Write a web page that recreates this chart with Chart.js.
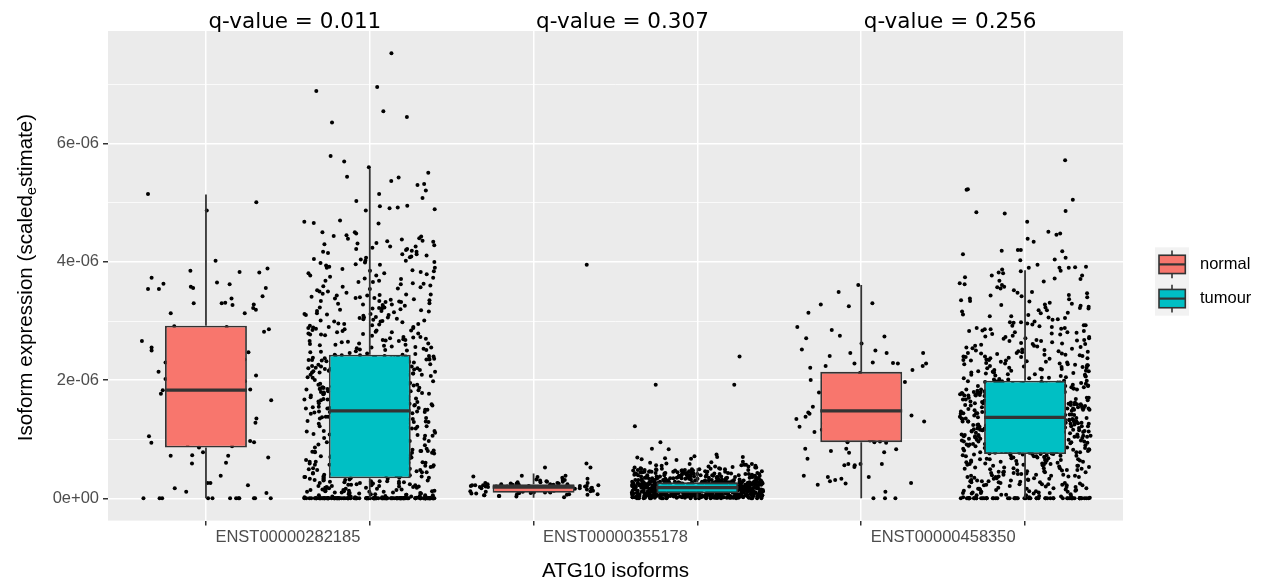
<!DOCTYPE html>
<html><head><meta charset="utf-8">
<script src="https://cdn.jsdelivr.net/npm/chart.js@4.4.1/dist/chart.umd.min.js"></script>
<style>html,body{margin:0;padding:0;background:#fff}canvas{display:block}</style>
</head><body>
<canvas id="c" width="1262" height="583"></canvas>
<script>
// ---------------- data (expression values in units of 1e-6) ----------------
const categories = ['ENST00000282185', 'ENST00000355178', 'ENST00000458350'];
const groups = ['normal', 'tumour'];
const qValues = ['0.011', '0.307', '0.256'];
const yTickLabels = ['0e+00', '2e-06', '4e-06', '6e-06'];
const yTickValues = [0, 1, 2, 3, 4, 5, 6, 7];
const xTitle = 'ATG10 isoforms';
const yTitleParts = ['Isoform expression (scaled', 'e', 'stimate)'];

// box statistics, order: cat1 normal, cat1 tumour, cat2 normal, cat2 tumour, cat3 normal, cat3 tumour
const boxLow    = [0, 0, 0.01, 0, 0, 0];
const boxQ1     = [0.86, 0.34, 0.095, 0.085, 0.95, 0.75];
const boxMedian = [1.83, 1.48, 0.19, 0.18, 1.48, 1.37];
const boxQ3     = [2.92, 2.43, 0.237, 0.27, 2.14, 1.99];
const boxHigh   = [5.14, 5.58, 0.42, 0.51, 3.61, 3.86];

// individual samples (jittered points)
const n1 = [5.01,5.15,4.87,4.02,3.82,3.73,3.89,3.83,3.85,3.65,3.56,3.63,3.58,3.54,3.62,3.56,3.54,3.42,3.38,3.31,
3.27,3.13,3.30,3.22,3.13,3.19,3.30,3.28,2.84,2.82,2.79,2.90,2.86,2.59,2.50,2.30,2.26,2.27,1.98,1.83,
1.86,1.75,1.58,1.58,1.39,1.28,1.20,1.14,1.17,0.97,0.94,0.86,0.78,0.73,0.72,0.72,0.69,0.59,0.60,0.38,
0.22,0.26,0.26,0.11,0.09,0.17,0,0,0,0,0,0,0,0,0,0,0,0,
2.91,2.74,2.66,2.55,2.47,2.41,2.35,2.20,2.14,2.08,2.02,1.95,1.91,1.88,1.84,1.80,1.77,1.71,1.66,1.62,
1.53,1.47,1.43,1.35,1.31,1.24,1.10,1.05,1.01,0.95,0.91,0.88,2.62];

const t1 = [0,0,0,0,0,0,0,0,0,0,0,0,0,0,0,0,0,0,0,0,0,0,0,0,0,0,0,0,0,0,
0,0,0,0,0,0,0,0,0,0,0,0,0,0,0,0,0,0,0,0,0,0,0,0,0,0,0,0,0,0,
0,0,0,0,0,0,0,0,0,0,0,0,0,0,0,0,0,0,0,0,0,0,0,0,0,0,0,0,0,0,
0.02,0.05,0.08,0.11,0.03,0.14,0.19,0.07,0.22,0.26,0.04,0.31,0.12,0.17,0.09,0.28,0.33,0.06,0.15,0.21,
0.01,0.24,0.13,0.30,0.10,0.18,0.27,0.05,0.16,0.23,0.32,0.08,0.20,0.29,0.02,0.12,0.25,0.34,0.07,0.19,
0.14,0.03,0.22,0.31,0.11,0.26,0.04,0.17,0.29,0.09,0.21,0.33,0.06,0.15,0.24,0.10,0.28,0.18,0.01,0.13,
0.36,0.52,0.71,0.94,1.12,1.33,0.45,0.63,0.88,1.05,1.27,1.44,0.39,0.58,0.77,0.99,1.18,1.38,0.48,0.67,
0.83,1.02,1.21,1.41,0.35,0.55,0.74,0.91,1.09,1.30,1.47,0.42,0.61,0.80,0.97,1.15,1.35,0.50,0.69,0.86,
1.06,1.24,1.43,0.37,0.57,0.76,0.93,1.11,1.29,1.46,0.44,0.64,0.82,1.00,1.19,1.37,0.53,0.72,0.90,1.08,
1.26,1.45,0.40,0.60,0.79,0.96,1.14,1.32,0.47,0.66,0.85,1.03,1.22,1.40,0.38,0.56,0.75,0.92,1.10,1.28,
1.48,0.43,0.62,0.81,0.98,1.16,1.36,0.51,0.70,0.87,1.07,1.25,1.42,0.41,0.59,0.78,0.95,1.13,1.31,0.49,
0.68,0.84,1.04,1.23,1.39,0.46,0.65,0.89,1.01,1.20,1.34,0.54,0.73,0.35,1.17,1.46,0.60,0.97,0.42,1.27,
0.80,1.38,0.57,1.09,0.66,1.44,0.39,0.93,1.21,0.75,1.03,0.50,1.32,0.87,1.14,0.44,0.71,1.41,0.62,0.99,
1.26,0.36,0.83,1.47,0.55,1.06,0.91,1.35,0.48,0.77,
1.50,1.63,1.79,1.94,2.08,2.22,2.37,1.55,1.71,1.86,2.01,2.15,2.30,1.58,1.74,1.90,2.05,2.19,2.34,1.52,
1.67,1.83,1.98,2.12,2.27,2.41,1.60,1.76,1.92,2.07,2.21,2.36,1.54,1.69,1.85,2.00,2.14,2.29,2.43,1.62,
1.78,1.93,2.09,2.24,2.39,1.57,1.72,1.88,2.03,2.17,2.32,1.49,1.65,1.81,1.96,2.11,2.26,2.40,1.59,1.75,
1.91,2.06,2.20,2.35,1.53,1.68,1.84,1.99,2.13,2.28,2.42,1.61,1.77,1.95,2.10,2.25,2.38,1.56,1.70,1.87,
2.02,2.16,2.31,1.51,1.66,1.82,1.97,2.12,2.27,2.41,1.64,1.80,1.89,2.04,2.18,2.33,1.58,1.73,1.92,2.08,
2.23,2.37,1.50,1.69,1.85,2.01,2.15,2.29,1.62,1.78,1.94,2.09,2.24,2.39,1.55,1.71,1.87,2.03,2.19,2.34,
1.60,1.76,1.91,2.06,2.21,2.36,1.53,1.67,1.83,1.98,2.14,2.30,2.42,1.65,1.80,1.96,2.11,2.26,2.40,1.57,
1.74,1.89,2.05,2.20,2.35,1.52,1.68,1.84,2.00,2.16,
2.45,2.61,2.78,2.95,3.12,3.29,3.46,2.52,2.69,2.86,3.03,3.20,3.37,2.48,2.65,2.82,2.99,3.16,3.33,2.56,
2.73,2.90,3.07,3.24,3.41,2.50,2.67,2.84,3.01,3.18,3.35,2.59,2.76,2.93,3.10,3.27,3.44,2.47,2.64,2.81,
2.98,3.15,3.32,2.54,2.71,2.88,3.05,3.22,3.39,2.58,2.75,2.92,3.09,3.26,3.43,2.49,2.66,2.83,3.00,3.17,
3.34,2.62,2.79,2.96,3.13,3.30,3.48,2.55,2.72,2.89,3.06,3.23,3.40,2.51,2.68,2.85,3.02,3.19,3.36,2.60,
2.77,2.94,3.11,3.28,3.45,
3.52,3.68,3.85,4.02,4.19,4.36,3.58,3.75,3.92,4.09,4.26,4.43,3.55,3.71,3.88,4.05,4.22,4.39,3.62,3.79,
3.96,4.13,4.30,3.50,3.66,3.83,4.00,4.17,4.34,3.60,3.77,3.94,4.11,4.28,4.45,3.64,3.81,3.98,4.15,4.32,
3.57,3.73,3.90,4.07,4.24,
4.50,4.48,4.50,4.66,4.65,4.70,4.68,4.92,4.94,4.87,4.89,4.91,4.95,5.03,5.08,5.15,5.21,5.37,5.30,5.32,
5.44,5.51,5.43,5.60,5.70,5.79,6.36,6.45,6.55,6.89,6.96,7.53,
0,0,0,0,0,0,0,0,0,0,0,0,0,0,0,0,0,0,0,0,0,0,0,0,0,0,0,0,0,0,0,0,0,0,0,0,0,0,0,0,
0.03,0.07,0.12,0.16,0.20,0.25,0.29,0.33,0.05,0.10,0.14,0.18,0.23,0.27,0.31,0.02,0.08,0.13,0.21,0.26,0.30,0.11,
0.37,0.46,0.55,0.64,0.73,0.82,0.91,1.00,1.09,1.18,1.27,1.36,1.45,0.41,0.50,0.59,0.68,0.77,0.86,0.95,
1.04,1.13,1.22,1.31,1.40,0.35,0.44,0.53,0.62,0.71,0.80,0.89,0.98,1.07,1.16,1.25,1.34,1.43,0.39,0.48,
0.57,0.66,0.75,0.84,0.93,1.02,1.11,1.20,1.29,1.38,1.47,0.43,0.52,0.61,0.70,0.79,0.88,0.97,1.06,1.15,
1.24,1.33,
1.51,1.59,1.67,1.75,1.83,1.91,1.99,2.07,2.15,2.23,2.31,2.39,1.55,1.63,1.71,1.79,1.87,1.95,2.03,2.11,
2.19,2.27,2.35,2.43,1.49,1.57,1.65,1.73,1.81,1.89,1.97,2.05,2.13,2.21,2.29,2.37,1.53,1.61,1.69,1.77,
1.85,1.93,2.01,2.09,2.17,2.25,2.33,2.41,1.56,1.64,1.72,1.80,1.88,1.96,2.04,2.12,2.20,2.28,2.36,1.60,
1.76,1.92,
2.46,2.57,2.68,2.79,2.90,3.01,3.12,3.23,3.34,3.45,2.51,2.62,2.73,2.84,2.95,3.06,3.17,3.28,3.39,3.50,
2.44,2.55,2.66,2.77,2.88,2.99,3.10,3.21,3.32,3.43,2.53,2.70,2.87,3.04,3.21,3.38,2.60,2.81,
3.54,3.63,3.72,3.81,3.90,3.99,4.08,4.17,4.26,4.35,4.44,3.59,3.68,3.77,3.86,3.95,4.04,4.13,4.22,4.31,
4.40,3.66,3.84,4.02,4.20,4.38];

const n2 = [3.95,0.52,0.59,0.52,0.38,0.32,0.38,0.37,0.31,0.33,0.36,0.35,0.22,0.31,
0.03,0.05,0.07,0.09,0.11,0.13,0.15,0.17,0.19,0.21,0.23,0.25,0.27,0.04,0.06,0.08,0.10,0.12,0.14,0.16,
0.18,0.20,0.22,0.24,0.26,0.28,0.02,0.09,0.16,0.21,0.12,0.19,0.24,0.07,0.14,0.20,0.25,0.10,0.17,0.23,
0.29,0.05,0.13,0.18,0.22,0.08,0.15,0.21,0.26,0.11,0.19,0.24,0.06,0.17,0.20,0.27,0.09,0.14,0.22,0.30,
0.12,0.18,0.23,0.04,0.16,0.20,0.25,0.10,0.19,0.28,0.13,0.21,0.07,0.17,0.24,0.11,0.19,0.22,0.15,0.26];

const t2 = [0.00,0.01,0.03,0.05,0.07,0.02,0.04,0.06,0.08,0.00,0.01,0.03,0.05,0.07,0.02,0.04,0.06,0.08,0.00,0.02,
0.04,0.06,0.01,0.03,0.05,0.07,0.00,0.02,0.04,0.06,0.08,0.01,0.03,0.05,0.07,0.00,0.02,0.04,0.06,0.08,
0.01,0.03,0.05,0.07,0.02,0.04,0.06,0.00,0.01,0.03,0.05,0.07,0.02,0.04,0.06,0.08,0.00,0.02,0.04,0.06,
0.01,0.03,0.05,0.07,0.00,0.02,0.04,0.06,0.08,0.01,0.03,0.05,0.07,0.02,0.04,0.06,0.00,0.01,0.03,0.05,
0.07,0.02,0.04,0.06,0.08,0.00,0.02,0.04,0.06,0.01,0.03,0.05,0.07,0.02,0.04,0.06,0.08,0.00,0.01,0.03,
0.05,0.07,0.02,0.04,0.06,0.00,0.03,0.05,0.07,0.08,
0.09,0.11,0.13,0.15,0.17,0.10,0.12,0.14,0.16,0.18,0.09,0.11,0.13,0.15,0.17,0.10,0.12,0.14,0.16,0.18,
0.10,0.12,0.14,0.16,0.09,0.11,0.13,0.15,0.17,0.10,0.12,0.14,0.16,0.18,0.09,0.11,0.13,0.15,0.17,0.11,
0.13,0.15,0.09,0.10,0.12,0.14,0.16,0.18,0.11,0.13,0.15,0.17,0.09,0.12,0.14,0.16,0.10,0.13,0.15,0.17,
0.09,0.11,0.14,0.16,0.18,0.10,0.12,0.15,0.17,0.09,0.11,0.13,0.16,0.18,0.10,0.12,0.14,0.17,0.09,0.11,
0.13,0.15,0.18,0.10,0.12,0.14,0.16,0.09,0.11,0.13,0.15,0.17,0.10,0.12,0.14,0.16,0.18,0.09,0.11,0.13,
0.15,0.17,0.10,0.12,0.14,0.16,0.11,0.13,0.15,0.17,
0.19,0.21,0.23,0.25,0.27,0.20,0.22,0.24,0.26,0.18,0.19,0.21,0.23,0.25,0.27,0.20,0.22,0.24,0.26,0.18,
0.20,0.22,0.24,0.26,0.19,0.21,0.23,0.25,0.27,0.18,0.20,0.22,0.24,0.26,0.19,0.21,0.23,0.25,0.27,0.21,
0.23,0.25,0.18,0.19,0.22,0.24,0.26,0.20,0.21,0.23,0.25,0.27,0.19,0.22,0.24,0.26,0.18,0.20,0.23,0.25,
0.19,0.21,0.24,0.26,0.27,0.20,0.22,0.25,0.18,0.19,0.21,0.23,0.26,0.27,0.20,0.22,0.24,0.25,0.18,0.21,
0.23,0.25,0.27,0.20,0.22,0.24,0.26,0.19,0.21,0.23,0.25,0.26,0.18,0.20,0.22,0.24,0.27,0.19,0.21,0.23,
0.25,0.26,0.20,0.22,0.24,0.19,0.21,0.23,0.25,0.27,
0.28,0.31,0.34,0.37,0.40,0.43,0.46,0.49,0.29,0.32,0.35,0.38,0.41,0.44,0.47,0.50,0.30,0.33,0.36,0.39,
0.42,0.45,0.48,0.51,0.28,0.31,0.34,0.37,0.40,0.43,0.27,0.30,0.33,0.36,0.39,0.29,0.32,0.35,0.38,0.41,
0.28,0.31,0.34,0.37,0.30,0.33,0.36,0.29,0.32,0.35,0.44,0.47,0.42,0.45,0.48,0.46,0.49,0.43,0.40,0.38,
0.27,0.30,0.33,0.36,0.28,0.31,0.34,0.29,0.32,0.35,0.37,0.39,0.41,0.43,0.45,0.47,0.50,0.28,0.30,0.32,
0.34,0.36,0.38,0.40,0.42,0.27,0.29,0.31,0.33,0.35,0.44,0.46,0.48,0.39,0.41,
0.52,0.54,0.55,0.57,0.58,0.59,0.60,0.61,0.62,0.56,
2.40,1.92,1.92,1.22,0.95,0.83,0.84,0.74,0.70,0.70,0.69,0.67,0.71,0.68,0.65,0.66,
0.00,0.02,0.04,0.06,0.08,0.01,0.03,0.05,0.07,0.00,0.02,0.04,0.06,0.08,0.01,0.03,0.05,0.07,0.00,0.01,
0.03,0.05,0.07,0.02,0.04,0.06,0.08,0.00,0.02,0.04,0.06,0.01,0.03,0.05,0.07,0.08,0.00,0.02,0.04,0.06,
0.01,0.03,0.05,0.07,0.02,0.04,0.06,0.08,0.00,0.01,0.03,0.05,0.07,0.02,0.04,0.06,0.00,0.03,0.05,0.08,
0.09,0.10,0.11,0.12,0.13,0.14,0.15,0.16,0.17,0.18,0.10,0.12,0.14,0.16,0.09,0.11,0.13,0.15,0.17,0.18,
0.09,0.10,0.12,0.13,0.15,0.16,0.11,0.14,0.17,0.10,0.13,0.16,0.09,0.12,0.15,0.18,0.11,0.14,0.17,0.10,
0.09,0.11,0.13,0.15,0.17,0.12,0.14,0.16,0.18,0.10,0.13,0.15,0.11,0.16,0.12,0.14,0.09,0.17,0.13,0.15,
0.19,0.20,0.21,0.22,0.23,0.24,0.25,0.26,0.27,0.18,0.20,0.22,0.24,0.26,0.19,0.21,0.23,0.25,0.27,0.18,
0.19,0.20,0.22,0.23,0.25,0.26,0.21,0.24,0.27,0.20,0.23,0.26,0.19,0.22,0.25,0.18,0.21,0.24,0.27,0.20,
0.19,0.21,0.23,0.25,0.22,0.24,0.26,0.18,0.20,0.23,0.25,0.21,0.26,0.22,0.24,0.19,0.27,0.23,0.25,0.20,
0.28,0.32,0.36,0.40,0.44,0.48,0.52,0.56,0.30,0.34,0.38,0.42,0.46,0.50,0.54,0.58,0.29,0.33,0.37,0.41,
0.45,0.49,0.53,0.57,0.31,0.35,0.39,0.43,0.47,0.51,0.55,0.27,0.32,0.37,0.42,0.47,0.52,0.29,0.34,0.39,
0.44,0.49,0.54,0.30,0.35,0.40,0.45,0.50,0.28,0.33,0.38,0.43,0.48,0.31,0.36,0.41,0.46,0.28,0.34,0.40,
0.30,0.36,0.42,0.29,0.35,0.41,0.27,0.33,0.39,0.45];

const n3 = [3.61,3.25,3.49,3.30,3.28,3.14,2.90,2.75,2.85,2.74,2.71,2.46,2.62,2.41,2.46,2.46,2.52,2.50,2.21,2.24,
2.30,2.29,2.24,2.28,2.28,2.28,2.17,2.00,2.00,1.84,1.88,1.49,1.66,1.55,1.43,1.25,1.27,1.38,0.96,0.98,
1.00,1.03,0.94,0.95,0.95,0.78,0.80,0.83,0.84,0.84,0.77,0.67,0.58,0.58,0.58,0.53,0.56,0.56,0.36,0.33,
0.31,0.26,0.25,0.36,0.23,0.38,0.29,0.11,0,0,0,
2.12,2.06,1.97,1.93,1.79,1.74,1.70,1.62,1.58,1.52,1.47,1.45,1.40,1.34,1.30,1.21,1.16,1.12,1.07,1.02];

const t3 = [0,0,0,0,0,0,0,0,0,0,0,0,0,0,0,0,0,0,0,0,0,0,0,0,0,0,0,0,0,0,0,0,0,0,0,0,0,0,0,0,0,0,0,0,0,
0.04,0.12,0.21,0.33,0.45,0.58,0.69,0.08,0.17,0.27,0.39,0.51,0.63,0.73,0.02,0.14,0.24,0.36,0.48,0.60,
0.71,0.06,0.19,0.30,0.42,0.55,0.66,0.10,0.23,0.34,0.47,0.59,0.70,0.03,0.16,0.28,0.40,0.53,0.64,0.74,
0.09,0.20,0.32,0.44,0.57,0.68,0.05,0.15,0.26,0.38,0.50,0.62,0.72,0.11,0.22,0.35,0.46,0.56,0.67,0.07,
0.18,0.29,0.41,0.54,0.65,0.75,0.13,0.25,0.37,0.49,0.61,0.01,0.19,0.31,0.43,0.52,0.70,0.09,0.27,0.40,
0.58,0.66,0.14,0.33,0.47,0.62,0.73,0.05,0.22,0.36,0.51,0.68,0.11,0.29,0.44,0.57,0.71,0.16,0.38,0.55,
0.64,0.24,0.46,0.60,0.74,
0.76,0.84,0.93,1.02,1.11,1.20,1.29,0.79,0.88,0.97,1.06,1.15,1.24,1.33,0.81,0.90,0.99,1.08,1.17,1.26,
1.35,0.77,0.86,0.95,1.04,1.13,1.22,1.31,0.82,0.91,1.00,1.09,1.18,1.27,1.36,0.78,0.87,0.96,1.05,1.14,
1.23,1.32,0.83,0.92,1.01,1.10,1.19,1.28,1.37,0.80,0.89,0.98,1.07,1.16,1.25,1.34,0.85,0.94,1.03,1.12,
1.21,1.30,0.75,0.84,0.93,1.02,1.11,1.20,1.29,0.79,0.88,0.97,1.06,1.15,1.24,1.33,0.81,0.90,0.99,1.08,
1.17,1.26,1.35,0.77,0.86,0.95,1.04,1.13,1.22,1.31,0.82,0.91,1.00,1.09,1.18,1.27,1.36,0.78,0.87,0.96,
1.05,1.14,1.23,1.32,0.83,0.92,1.01,1.10,1.19,1.28,0.80,0.89,0.98,1.07,1.16,1.25,1.34,0.85,0.94,1.03,
1.12,1.21,1.30,0.76,0.92,1.08,1.24,0.88,1.04,1.20,1.36,0.96,1.12,1.28,0.84,1.00,1.16,1.32,0.80,1.14,
0.98,1.26,0.86,1.06,1.22,0.90,1.10,1.30,0.94,1.18,
1.38,1.47,1.56,1.65,1.74,1.83,1.92,1.41,1.50,1.59,1.68,1.77,1.86,1.95,1.43,1.52,1.61,1.70,1.79,1.88,
1.97,1.39,1.48,1.57,1.66,1.75,1.84,1.93,1.44,1.53,1.62,1.71,1.80,1.89,1.98,1.40,1.49,1.58,1.67,1.76,
1.85,1.94,1.45,1.54,1.63,1.72,1.81,1.90,1.99,1.42,1.51,1.60,1.69,1.78,1.87,1.96,1.46,1.55,1.64,1.73,
1.82,1.91,1.37,1.46,1.55,1.64,1.73,1.82,1.91,1.41,1.50,1.59,1.68,1.77,1.86,1.95,1.43,1.52,1.61,1.70,
1.79,1.88,1.97,1.39,1.48,1.57,1.66,1.75,1.84,1.93,1.44,1.53,1.62,1.71,1.80,1.89,1.98,1.40,1.49,1.58,
1.67,1.76,1.85,1.94,1.45,1.54,1.63,1.72,1.81,1.90,1.42,1.51,1.60,1.69,1.78,1.87,1.96,1.47,1.56,1.65,
1.74,1.83,1.92,1.38,1.54,1.70,1.86,1.50,1.66,1.82,1.98,1.58,1.74,1.90,1.46,1.62,1.78,1.94,1.42,1.76,
1.60,1.88,1.48,1.68,1.84,1.52,1.72,1.92,1.56,1.80,
2.02,2.11,2.20,2.29,2.38,2.47,2.05,2.14,2.23,2.32,2.41,2.50,2.08,2.17,2.26,2.35,2.44,2.03,2.12,2.21,
2.30,2.39,2.48,2.06,2.15,2.24,2.33,2.42,2.01,2.10,2.19,2.28,2.37,2.46,2.09,2.18,2.27,2.36,2.45,2.04,
2.13,2.22,2.31,2.40,2.49,2.07,2.16,2.25,2.34,2.43,
2.55,2.68,2.81,2.94,2.61,2.74,2.87,2.99,2.58,2.71,2.84,2.97,2.64,2.77,2.90,2.52,2.66,2.79,2.92,2.57,
2.70,2.83,2.96,2.62,2.75,2.88,2.54,2.67,2.80,2.93,2.60,2.73,2.86,2.98,2.56,
3.05,3.18,3.31,3.44,3.11,3.24,3.37,3.49,3.08,3.21,3.34,3.47,3.14,3.27,3.40,3.02,3.16,3.29,3.42,3.10,
3.22,3.35,
3.55,3.68,3.81,3.61,3.74,3.87,3.58,3.71,3.84,3.64,3.77,3.52,3.85,
5.72,5.23,5.22,5.05,4.82,4.86,4.84,4.68,4.46,4.51,4.39,4.48,4.34,4.18,4.19,4.20,4.20,4.13,4.04,4.07,
4.03,3.95,3.90,3.90,3.90,3.92,3.91,
0,0,0,0,0,0,0,0,0,0,0,0,0,0,0,
0.03,0.10,0.17,0.24,0.31,0.38,0.45,0.52,0.59,0.66,0.73,0.06,0.13,0.20,0.27,0.34,0.41,0.48,0.55,0.62,
0.69,0.02,0.09,0.16,0.23,0.30,0.37,0.44,0.51,0.58,0.65,0.72,0.08,0.15,0.22,0.29,0.36,0.43,0.50,0.57,
0.64,0.71,0.12,0.26,0.40,
0.77,0.85,0.93,1.01,1.09,1.17,1.25,1.33,0.79,0.87,0.95,1.03,1.11,1.19,1.27,1.35,0.81,0.89,0.97,1.05,
1.13,1.21,1.29,1.37,0.76,0.84,0.92,1.00,1.08,1.16,1.24,1.32,0.78,0.86,0.94,1.02,1.10,1.18,1.26,1.34,
0.80,0.88,0.96,1.04,1.12,1.20,1.28,1.36,0.82,0.90,0.98,1.06,1.14,1.22,1.30,0.83,0.91,0.99,1.07,1.15,
1.23,1.31,0.75,0.95,1.15,
1.39,1.47,1.55,1.63,1.71,1.79,1.87,1.95,1.41,1.49,1.57,1.65,1.73,1.81,1.89,1.97,1.43,1.51,1.59,1.67,
1.75,1.83,1.91,1.99,1.38,1.46,1.54,1.62,1.70,1.78,1.86,1.94,1.40,1.48,1.56,1.64,1.72,1.80,1.88,1.96,
1.42,1.50,1.58,1.66,1.74,1.82,1.90,1.98,1.44,1.52,1.60,1.68,1.76,1.84,1.92,1.45,1.53,1.61,1.69,1.77,
1.85,1.93,1.37,1.57,1.79,
2.01,2.07,2.13,2.19,2.25,2.31,2.37,2.43,2.49,2.04,2.10,2.16,2.22,2.28,2.34,2.40,2.46,2.03,2.09,2.15,
2.21,2.27,2.33,2.39,2.45,2.53,2.63,2.73,2.83,2.93,2.58,2.68,2.78,2.88,2.98,2.51,2.61,2.71,2.81,2.91,
3.03,3.13,3.23,3.33,3.43,3.08,3.18,3.28,3.38,3.48,3.57,3.67,3.77,3.62,3.72,3.82,3.06,3.26,2.66,2.86];

const samples = [n1, t1, n2, t2, n3, t3];

// ---------------- styling / layout ----------------
const groupColors = ['#F8766D', '#00BFC4'];
const lineCol = '#333333';
const dodge = 0.25, boxHalf = 0.125, jitterHalf = 0.2;
Chart.defaults.font.family = '"Liberation Sans", Arial, sans-serif';

// box centre positions on the x axis (category i at i+1, dodged per group)
const centers = [];
categories.forEach((c, i) => groups.forEach((g, j) => centers.push(i + 1 + (j === 0 ? -dodge : dodge))));

// deterministic stand-in for ggplot's horizontal jitter (position only, values untouched)
function jitterFrac(i, k) {
  let h = Math.imul(i + 1, 0x9E3779B1) ^ Math.imul(k + 11, 0x85EBCA6B);
  h ^= h >>> 16; h = Math.imul(h, 0x7FEB352D); h ^= h >>> 15; h = Math.imul(h, 0x846CA68B); h ^= h >>> 16;
  return (h >>> 0) / 4294967296;
}

const pointData = [];
samples.forEach((arr, k) => arr.forEach((v, i) => {
  pointData.push({ x: centers[k] + (jitterFrac(i, k) - 0.5) * 2 * jitterHalf, y: v });
}));

const boxData = centers.map((x, k) => ({ x: x, y: [boxQ1[k], boxQ3[k]] }));
const whiskerData = [];
const medianData = [];
centers.forEach((x, k) => {
  whiskerData.push({ x: x, y: boxQ3[k] }, { x: x, y: boxHigh[k] }, { x: x, y: null },
                   { x: x, y: boxQ1[k] }, { x: x, y: boxLow[k] }, { x: x, y: null });
  medianData.push({ x: x - boxHalf, y: boxMedian[k] }, { x: x + boxHalf, y: boxMedian[k] }, { x: x, y: null });
});

const decor = {
  id: 'decor',
  beforeDraw(chart) {
    const { ctx, chartArea: a } = chart;
    ctx.save();
    ctx.fillStyle = '#EBEBEB';
    ctx.fillRect(a.left, a.top, a.right - a.left, a.bottom - a.top);
    ctx.restore();
  },
  afterDraw(chart) {
    const { ctx, chartArea: a, scales } = chart;
    const xs = scales.x;
    ctx.save();
    ctx.fillStyle = '#000';
    ctx.textAlign = 'center';
    ctx.textBaseline = 'alphabetic';
    ctx.font = '21.5px "DejaVu Sans"';
    categories.forEach((c, i) => ctx.fillText('q-value = ' + qValues[i], xs.getPixelForValue(i + 1) + 7, a.top - 2.7));
    ctx.font = '20.6px "Liberation Sans"';
    ctx.fillText(xTitle, (a.left + a.right) / 2, 576.7);
    ctx.save();
    ctx.translate(31.7, (a.top + a.bottom) / 2 + 1.7);
    ctx.rotate(-Math.PI / 2);
    const f1 = '20.6px "Liberation Sans"', f2 = '14.4px "Liberation Sans"';
    ctx.font = f1;
    const w1 = ctx.measureText(yTitleParts[0]).width, w3 = ctx.measureText(yTitleParts[2]).width;
    ctx.font = f2;
    const w2 = ctx.measureText(yTitleParts[1]).width;
    const sx = -(w1 + w2 + w3) / 2;
    ctx.textAlign = 'left';
    ctx.font = f1; ctx.fillText(yTitleParts[0], sx, 0);
    ctx.font = f2; ctx.fillText(yTitleParts[1], sx + w1, 4.5);
    ctx.font = f1; ctx.fillText(yTitleParts[2], sx + w1 + w2, 0);
    ctx.restore();
    const kx = 1155, kw = 34, ky = 247.3, kh = 34.2;
    ctx.fillStyle = '#F2F2F2';
    ctx.fillRect(kx, ky, kw, kh * groups.length);
    groups.forEach((g, j) => {
      const cy = ky + kh * j + kh / 2, cx = kx + kw / 2;
      ctx.strokeStyle = lineCol; ctx.lineWidth = 1.6;
      ctx.beginPath(); ctx.moveTo(cx, cy - 13.8); ctx.lineTo(cx, cy + 13.8); ctx.stroke();
      ctx.fillStyle = groupColors[j];
      ctx.fillRect(kx + 4, cy - 9.15, 26.3, 18.3);
      ctx.strokeRect(kx + 4, cy - 9.15, 26.3, 18.3);
      ctx.lineWidth = 2.2;
      ctx.beginPath(); ctx.moveTo(kx + 4, cy); ctx.lineTo(kx + 30.3, cy); ctx.stroke();
      ctx.fillStyle = '#000';
      ctx.font = '16.5px "Liberation Sans"';
      ctx.textAlign = 'left'; ctx.textBaseline = 'middle';
      ctx.fillText(g, 1200, cy);
    });
    ctx.restore();
  }
};

new Chart(document.getElementById('c'), {
  type: 'scatter',
  data: {
    datasets: [
      { type: 'line', label: 'median', data: medianData, order: 1, borderColor: lineCol, borderWidth: 3.2,
        pointRadius: 0, fill: false, spanGaps: false, tension: 0, borderCapStyle: 'butt' },
      { type: 'bar', label: 'box', data: boxData, order: 2,
        backgroundColor: centers.map((c, k) => groupColors[k % 2]), borderColor: lineCol, borderWidth: 1.8,
        borderSkipped: false, categoryPercentage: 0.5, barPercentage: 1 },
      { type: 'line', label: 'whisker', data: whiskerData, order: 3, borderColor: lineCol, borderWidth: 1.8,
        pointRadius: 0, fill: false, spanGaps: false, tension: 0, borderCapStyle: 'butt' },
      { type: 'scatter', label: 'samples', data: pointData, order: 4, pointRadius: 2.0,
        backgroundColor: '#000', borderWidth: 0, pointHoverRadius: 2.0 }
    ]
  },
  options: {
    responsive: false,
    animation: false,
    devicePixelRatio: 1,
    events: [],
    layout: { padding: { top: 31, right: 139, bottom: 0, left: 0 } },
    plugins: { legend: { display: false }, tooltip: { enabled: false }, title: { display: false } },
    scales: {
      x: {
        type: 'linear', min: 0.451, max: 3.549, offset: false,
        afterBuildTicks: s => { s.ticks = centers.map(v => ({ value: v })); },
        afterFit: s => { s.height = 62.4; },
        grid: { color: '#FFFFFF', lineWidth: 1.5, drawTicks: true, tickLength: 5, tickColor: lineCol, tickWidth: 1.5, offset: false },
        border: { display: false },
        ticks: {
          autoSkip: false, maxRotation: 0, minRotation: 0, padding: 2, labelOffset: 81.9,
          color: '#4D4D4D', font: { size: 16.5 },
          callback: (v, i) => (i % 2 === 0 ? categories[i / 2] : '')
        }
      },
      y: {
        type: 'linear', min: -0.377, max: 7.907,
        afterBuildTicks: s => { s.ticks = yTickValues.map(v => ({ value: v })); },
        afterFit: s => { s.width = 108; },
        grid: {
          color: '#FFFFFF',
          lineWidth: c => (c.tick && c.tick.value % 2 === 0 ? 1.5 : 0.75),
          drawTicks: true, tickLength: 5, tickWidth: 1.5,
          tickColor: c => (c.tick && c.tick.value % 2 === 0 ? lineCol : 'rgba(0,0,0,0)')
        },
        border: { display: false },
        ticks: {
          padding: 4, color: '#4D4D4D', font: { size: 16.5 },
          callback: v => (v % 2 === 0 ? yTickLabels[v / 2] : '')
        }
      }
    }
  },
  plugins: [decor]
});
</script>
</body></html>
